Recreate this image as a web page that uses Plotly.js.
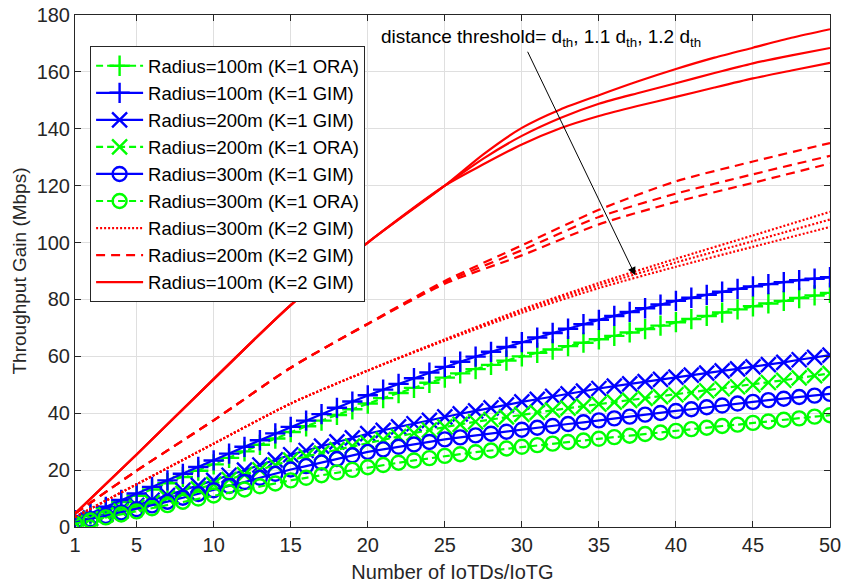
<!DOCTYPE html>
<html>
<head>
<meta charset="utf-8">
<script src="https://cdn.plot.ly/plotly-3.0.1.min.js"></script>
<style>html,body{margin:0;padding:0;background:#fff;}</style>
</head>
<body>
<div id="chart" style="width:852px;height:586px;"></div>
<script>
// ---- Data ----
const X_K1 = [1,2,3,4,5,6,7,8,9,10,11,12,13,14,15,16,17,18,19,20,21,22,23,24,25,26,27,28,29,30,31,32,33,34,35,36,37,38,39,40,41,42,43,44,45,46,47,48,49,50];

const r100_k1_ora = [2.2,4.4,6.6,8.8,11.0,13.2,15.4,17.6,19.8,22.0,24.3,26.6,28.9,31.1,33.4,35.4,37.4,39.4,41.4,43.4,45.3,47.1,48.9,50.7,52.5,54.0,55.5,57.0,58.5,60.0,61.2,62.4,63.6,64.8,66.0,67.2,68.4,69.6,70.8,72.0,73.1,74.2,75.4,76.5,77.6,78.6,79.5,80.5,81.4,82.3];
const r100_k1_gim = [2.4,4.8,7.1,9.5,11.8,14.1,16.4,18.7,21.1,23.4,25.8,28.2,30.5,32.9,35.2,37.4,39.7,41.9,44.1,46.3,48.3,50.3,52.3,54.3,56.3,58.1,59.9,61.6,63.3,65.0,66.6,68.2,69.7,71.3,72.8,74.2,75.6,76.9,78.2,79.5,80.6,81.6,82.7,83.7,84.6,85.4,86.1,86.8,87.3,87.8];
const r200_k1_gim = [1.8,3.2,4.7,6.1,7.6,9.4,11.1,12.9,14.6,16.4,18.2,20.0,21.8,23.6,25.4,26.9,28.4,29.9,31.3,32.8,34.0,35.2,36.3,37.5,38.7,39.8,40.8,41.9,42.9,44.0,44.9,45.9,46.8,47.8,48.7,49.5,50.3,51.1,51.9,52.7,53.4,54.1,54.9,55.6,56.3,57.1,57.9,58.8,59.6,60.4];
const r200_k1_ora = [1.5,2.9,4.3,5.6,7.0,8.6,10.2,11.8,13.4,15.0,16.7,18.4,20.1,21.8,23.5,24.8,26.0,27.2,28.4,29.6,30.7,31.8,33.0,34.1,35.2,36.1,37.0,37.8,38.7,39.6,40.3,41.1,41.8,42.5,43.2,43.9,44.5,45.2,45.8,46.5,47.2,47.9,48.6,49.3,50.0,50.8,51.6,52.4,53.2,54.0];
const r300_k1_gim = [1.5,2.7,3.9,5.1,6.3,7.6,8.9,10.3,11.6,12.9,14.4,15.8,17.3,18.7,20.2,21.4,22.7,23.9,25.2,26.4,27.3,28.2,29.0,29.9,30.8,31.5,32.2,32.8,33.5,34.2,34.9,35.5,36.2,36.8,37.5,38.2,38.8,39.5,40.1,40.8,41.4,42.1,42.7,43.4,44.0,44.6,45.1,45.7,46.2,46.8];
const r300_k1_ora = [1.2,2.3,3.4,4.4,5.5,6.6,7.7,8.9,10.0,11.1,12.2,13.2,14.3,15.3,16.4,17.3,18.2,19.2,20.1,21.0,21.8,22.6,23.4,24.2,25.0,25.6,26.3,26.9,27.6,28.2,28.8,29.3,29.9,30.4,31.0,31.6,32.1,32.7,33.2,33.8,34.4,34.9,35.5,36.0,36.6,37.1,37.7,38.2,38.8,39.3];

// K=2 GIM curves, for distance threshold d_th, 1.1 d_th, 1.2 d_th
const X_K2 = [1,5,10,15,20,25,30,35,40,45,50];
const r300_k2_a = [3.5,15.0,29.3,43.4,55.0,65.5,75.3,84.0,91.5,98.5,105.5];
const r300_k2_b = [3.5,15.0,29.3,43.4,55.0,65.8,76.0,85.0,93.0,100.5,108.1];
const r300_k2_c = [3.5,15.0,29.3,43.4,55.0,66.0,76.5,85.8,94.3,102.5,110.8];

const r200_k2_a = [4.7,19.8,37.5,56.0,71.3,85.5,95.5,106.4,114.3,121.0,127.8];
const r200_k2_b = [4.7,19.8,37.5,56.0,71.4,86.0,97.3,109.0,117.2,124.0,130.5];
const r200_k2_c = [4.7,19.8,37.5,56.0,71.5,86.5,99.0,111.5,121.5,128.5,135.0];

const X_K2S = [1,5,10,15,20,25,27.5,30,32.5,35,37.5,40,42.5,45,47.5,50];
const r100_k2_a = [4.7,25.5,52.0,78.0,100.0,120.0,127.5,134.5,140.2,144.5,148.0,151.2,154.5,157.7,160.5,163.2];
const r100_k2_b = [4.7,25.5,52.0,78.0,100.0,120.0,129.5,137.5,143.8,148.8,152.5,156.0,159.6,163.0,165.8,168.4];
const r100_k2_c = [4.7,25.5,52.0,78.0,100.0,120.0,131.0,140.3,146.8,151.8,156.6,161.0,165.0,168.5,172.0,175.0];

const X_TICKS = [1,5,10,15,20,25,30,35,40,45,50];
const Y_TICKS = [0,20,40,60,80,100,120,140,160,180];

// ---- Styles ----
const GREEN = '#00ff00', BLUE = '#0000ff', RED = '#ff0000';
const FONT = '"Liberation Sans", Arial, Helvetica, sans-serif';

function k1(name, y, color, dash, symbol, size) {
  return {
    x: X_K1, y: y, name: name, type: 'scatter', mode: 'lines+markers',
    line: {color: color, width: 2.2, dash: dash},
    marker: {symbol: symbol, size: size, color: color, line: {color: color, width: 2.4}}
  };
}
function k2(name, x, y, dash, show) {
  return {
    x: x, y: y, name: name, type: 'scatter', mode: 'lines', showlegend: show,
    line: {color: RED, width: 2.2, dash: dash, shape: 'spline', smoothing: 0.7}
  };
}

const traces = [
  k1('Radius=100m (K=1 ORA)', r100_k1_ora, GREEN, '7px,4px', 'cross-thin-open', 14.5),
  k1('Radius=100m (K=1 GIM)', r100_k1_gim, BLUE, 'solid', 'cross-thin-open', 14.5),
  k1('Radius=200m (K=1 GIM)', r200_k1_gim, BLUE, 'solid', 'x-thin-open', 15),
  k1('Radius=200m (K=1 ORA)', r200_k1_ora, GREEN, '7px,4px', 'x-thin-open', 15),
  k1('Radius=300m (K=1 GIM)', r300_k1_gim, BLUE, 'solid', 'circle-open', 14),
  k1('Radius=300m (K=1 ORA)', r300_k1_ora, GREEN, '7px,4px', 'circle-open', 14),
  k2('Radius=300m (K=2 GIM)', X_K2, r300_k2_a, '2px,2px', true),
  k2('r300b', X_K2, r300_k2_b, '2px,2px', false),
  k2('r300c', X_K2, r300_k2_c, '2px,2px', false),
  k2('Radius=200m (K=2 GIM)', X_K2, r200_k2_a, '9px,6px', true),
  k2('r200b', X_K2, r200_k2_b, '9px,6px', false),
  k2('r200c', X_K2, r200_k2_c, '9px,6px', false),
  k2('Radius=100m (K=2 GIM)', X_K2S, r100_k2_a, 'solid', true),
  k2('r100b', X_K2S, r100_k2_b, 'solid', false),
  k2('r100c', X_K2S, r100_k2_c, 'solid', false)
];

const axisCommon = {
  showline: true, linecolor: '#262626', linewidth: 1, mirror: 'ticks',
  ticks: 'inside', ticklen: 6, tickcolor: '#262626',
  showgrid: true, gridcolor: '#dfdfdf', gridwidth: 1, zeroline: false,
  tickfont: {family: FONT, size: 20, color: '#262626'}
};

const layout = {
  width: 852, height: 586, autosize: false,
  margin: {l: 75, r: 22, t: 15, b: 59, pad: 0},
  paper_bgcolor: '#ffffff', plot_bgcolor: '#ffffff',
  font: {family: FONT, size: 20, color: '#262626'},
  xaxis: Object.assign({}, axisCommon, {
    range: [1, 50], tickvals: X_TICKS, ticktext: X_TICKS.map(String),
    title: {text: 'Number of IoTDs/IoTG', font: {family: FONT, size: 20, color: '#262626'}, standoff: 9}
  }),
  yaxis: Object.assign({}, axisCommon, {
    range: [0, 180], tickvals: Y_TICKS, ticktext: Y_TICKS.map(String),
    title: {text: 'Throughput Gain (Mbps)', font: {family: FONT, size: 19, color: '#262626'}, standoff: 4}
  }),
  showlegend: true,
  legend: {
    x: 0.02, y: 0.939, xanchor: 'left', yanchor: 'top',
    bgcolor: '#ffffff', bordercolor: '#262626', borderwidth: 1,
    font: {family: FONT, size: 18.5, color: '#000000'},
    itemwidth: 47, tracegroupgap: 0
  },
  annotations: [
    {
      xref: 'x', yref: 'y', x: 20.7, y: 171.8, xanchor: 'left', yanchor: 'middle',
      text: 'distance threshold= d<sub>th</sub>, 1.1 d<sub>th</sub>, 1.2 d<sub>th</sub>',
      showarrow: false, font: {family: FONT, size: 19, color: '#000000'}
    },
    {
      xref: 'x', yref: 'y', x: 37.36, y: 88.5, axref: 'x', ayref: 'y', ax: 30.33, ay: 167.6,
      text: '', showarrow: true, arrowhead: 2, arrowsize: 1.6, arrowwidth: 1, arrowcolor: '#000000'
    }
  ]
};

Plotly.newPlot('chart', traces, layout, {displayModeBar: false, staticPlot: true});
</script>
</body>
</html>
